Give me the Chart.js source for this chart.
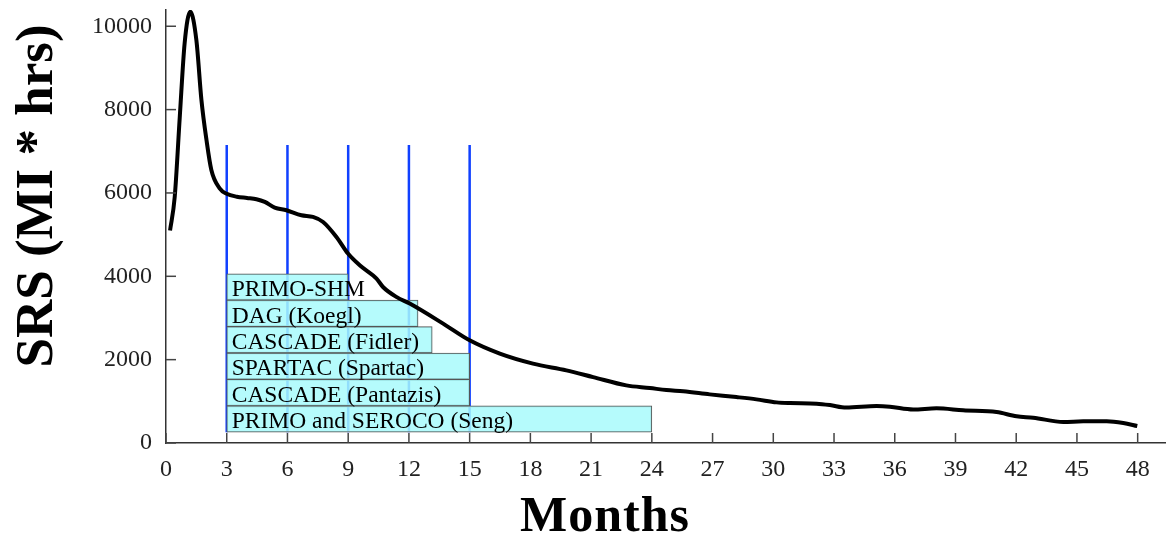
<!DOCTYPE html>
<html>
<head>
<meta charset="utf-8">
<script src="https://cdn.jsdelivr.net/npm/chart.js@4/dist/chart.umd.min.js"></script>
<style>
  html, body { margin: 0; padding: 0; background: #fff; }
  #wrap { width: 1171px; height: 535px; position: relative; }
</style>
</head>
<body>
<div id="wrap"><canvas id="srs-chart"></canvas></div>
<script>
// SRS curve (months vs MI*hrs)
var curveMonths = [
	0.2, 0.43, 0.68, 0.92, 1.2, 1.5, 1.75, 2.0, 2.24, 2.65,
	3.0, 3.5, 4.0, 4.47, 4.88, 5.37, 5.95, 6.69, 7.26, 7.76,
	8.42, 8.99, 9.57, 10.4, 10.72, 11.4, 12.04, 13.69, 15.0, 16.49,
	18.13, 19.78, 21.1, 22.74, 23.9, 24.72, 25.55, 26.86, 28.18, 29.17,
	30.16, 30.82, 32.14, 32.8, 33.6, 35.1, 35.76, 36.91, 38.06, 39.38,
	41.03, 42.02, 42.84, 44.33, 45.31, 46.47, 47.29, 47.98
];
var curveValues = [
	5100, 5900, 7820, 9590, 10350, 9670, 8230, 7270, 6550, 6110,
	5980, 5910, 5880, 5850, 5785, 5650, 5585, 5465, 5424, 5304,
	4944, 4545, 4264, 3945, 3743, 3500, 3345, 2864, 2463, 2144,
	1904, 1743, 1582, 1383, 1320, 1270, 1239, 1167, 1102, 1047,
	975, 958, 944, 910, 850, 886, 871, 805, 831, 783,
	742, 640, 607, 505, 519, 519, 478, 406
];

// trials
var trialLabels = [
	'PRIMO-SHM',
	'DAG (Koegl)',
	'CASCADE (Fidler)',
	'SPARTAC (Spartac)',
	'CASCADE (Pantazis)',
	'PRIMO and SEROCO (Seng)',
];
var trialStart = [3, 3, 3, 3, 3, 3];
var trialEnd = [9, 12.45, 13.15, 15, 15, 24];
var trialRowY = [3745, 3111, 2477, 1843, 1209, 575];

// blue marker lines
var markerMonths = [3, 6, 9, 12, 15];
var markerBottom = 260;
var markerTop = 7150;

var xTickValues = [0, 3, 6, 9, 12, 15, 18, 21, 24, 27, 30, 33, 36, 39, 42, 45, 48];
var yTickValues = [0, 2000, 4000, 6000, 8000, 10000];
var xMax = 49.35;
var yMax = 10390;

var serif = "'Liberation Serif', 'Times New Roman', serif";

var curveData = curveMonths.map(function(m, i){ return {x: m, y: curveValues[i]}; });

var markerData = [];
markerMonths.forEach(function(m){
	markerData.push({x: m, y: markerBottom});
	markerData.push({x: m, y: markerTop});
	markerData.push({x: m, y: null});
});

var trialData = trialLabels.map(function(l, i){
	return {x: [trialStart[i], trialEnd[i]], y: trialRowY[i]};
});

// inward tick marks, bar labels and axis titles
var decorPlugin = {
	id: 'decor',
	afterDatasetsDraw: function(chart){
		var ctx = chart.ctx;
		var xs = chart.scales.x, ys = chart.scales.y;
		var area = chart.chartArea;
		ctx.save();
		ctx.strokeStyle = '#444';
		ctx.lineWidth = 1.5;
		ys.ticks.forEach(function(t){
			var py = ys.getPixelForValue(t.value);
			ctx.beginPath();
			ctx.moveTo(area.left, py);
			ctx.lineTo(area.left + 10, py);
			ctx.stroke();
		});
		xs.ticks.forEach(function(t){
			var px = xs.getPixelForValue(t.value);
			ctx.beginPath();
			ctx.moveTo(px, area.bottom);
			ctx.lineTo(px, area.bottom - 10);
			ctx.stroke();
		});

		var meta = chart.getDatasetMeta(1);
		ctx.fillStyle = '#000';
		ctx.font = '23.5px ' + serif;
		ctx.textAlign = 'left';
		ctx.textBaseline = 'alphabetic';
		meta.data.forEach(function(el, i){
			ctx.fillText(trialLabels[i], el.base + 5, el.y + el.height / 2 - 4);
		});

		// axis titles
		ctx.fillStyle = '#000';
		ctx.font = 'bold 50px ' + serif;
		ctx.textAlign = 'center';
		ctx.letterSpacing = '1px';
		ctx.fillText('Months', 605, 531);
		ctx.letterSpacing = '0px';
		ctx.translate(52, 196);
		ctx.rotate(-Math.PI / 2);
		ctx.font = 'bold 53px ' + serif;
		ctx.fillText('SRS (MI * hrs)', 0, 0);
		ctx.restore();
	}
};

function fixedTicks(values){
	return function(scale){
		scale.ticks = values.map(function(v){ return {value: v}; });
	};
}

window.addEventListener('load', function(){
	var ctx = document.getElementById('srs-chart').getContext('2d');
	new Chart(ctx, {
		type: 'line',
		data: {
			datasets: [
				{
					type: 'line',
					data: curveData,
					borderColor: '#000',
					borderWidth: 4,
					pointRadius: 0,
					cubicInterpolationMode: 'monotone',
					fill: false,
					order: 0,
				},
				{
					type: 'bar',
					indexAxis: 'y',
					data: trialData,
					backgroundColor: 'rgba(168, 250, 252, 0.85)',
					borderColor: '#555',
					borderWidth: 1,
					borderSkipped: false,
					barPercentage: 1,
					categoryPercentage: 1,
					order: 1,
				},
				{
					type: 'line',
					data: markerData,
					borderColor: '#1040ff',
					borderWidth: 2.5,
					pointRadius: 0,
					spanGaps: false,
					fill: false,
					order: 2,
				}
			]
		},
		options: {
			responsive: true,
			maintainAspectRatio: false,
			animation: false,
			layout: { padding: { top: 10, right: 6, left: 0, bottom: 0 } },
			plugins: {
				legend: { display: false },
				tooltip: { enabled: false },
			},
			scales: {
				x: {
					type: 'linear',
					min: 0,
					max: xMax,
					offset: false,
					afterBuildTicks: fixedTicks(xTickValues),
					afterFit: function(s){ s.height = 92; },
					grid: { drawOnChartArea: false, drawTicks: false, offset: false },
					border: { display: true, color: '#333', width: 1.5 },
					ticks: {
						padding: 12,
						color: '#222',
						maxRotation: 0,
						autoSkip: false,
						font: { family: serif, size: 24 },
						callback: function(v){ return String(v); },
					},
				},
				y: {
					type: 'linear',
					min: 0,
					max: yMax,
					offset: false,
					afterBuildTicks: fixedTicks(yTickValues),
					afterFit: function(s){
						s.width = 166;
						s.paddingTop = 0;
						s.paddingBottom = 0;
					},
					grid: { drawOnChartArea: false, drawTicks: false, offset: false },
					border: { display: true, color: '#333', width: 1.5 },
					ticks: {
						padding: 14,
						color: '#222',
						autoSkip: false,
						font: { family: serif, size: 24 },
						callback: function(v){ return String(v); },
					},
				}
			}
		},
		plugins: [decorPlugin]
	});
});
</script>
</body>
</html>
